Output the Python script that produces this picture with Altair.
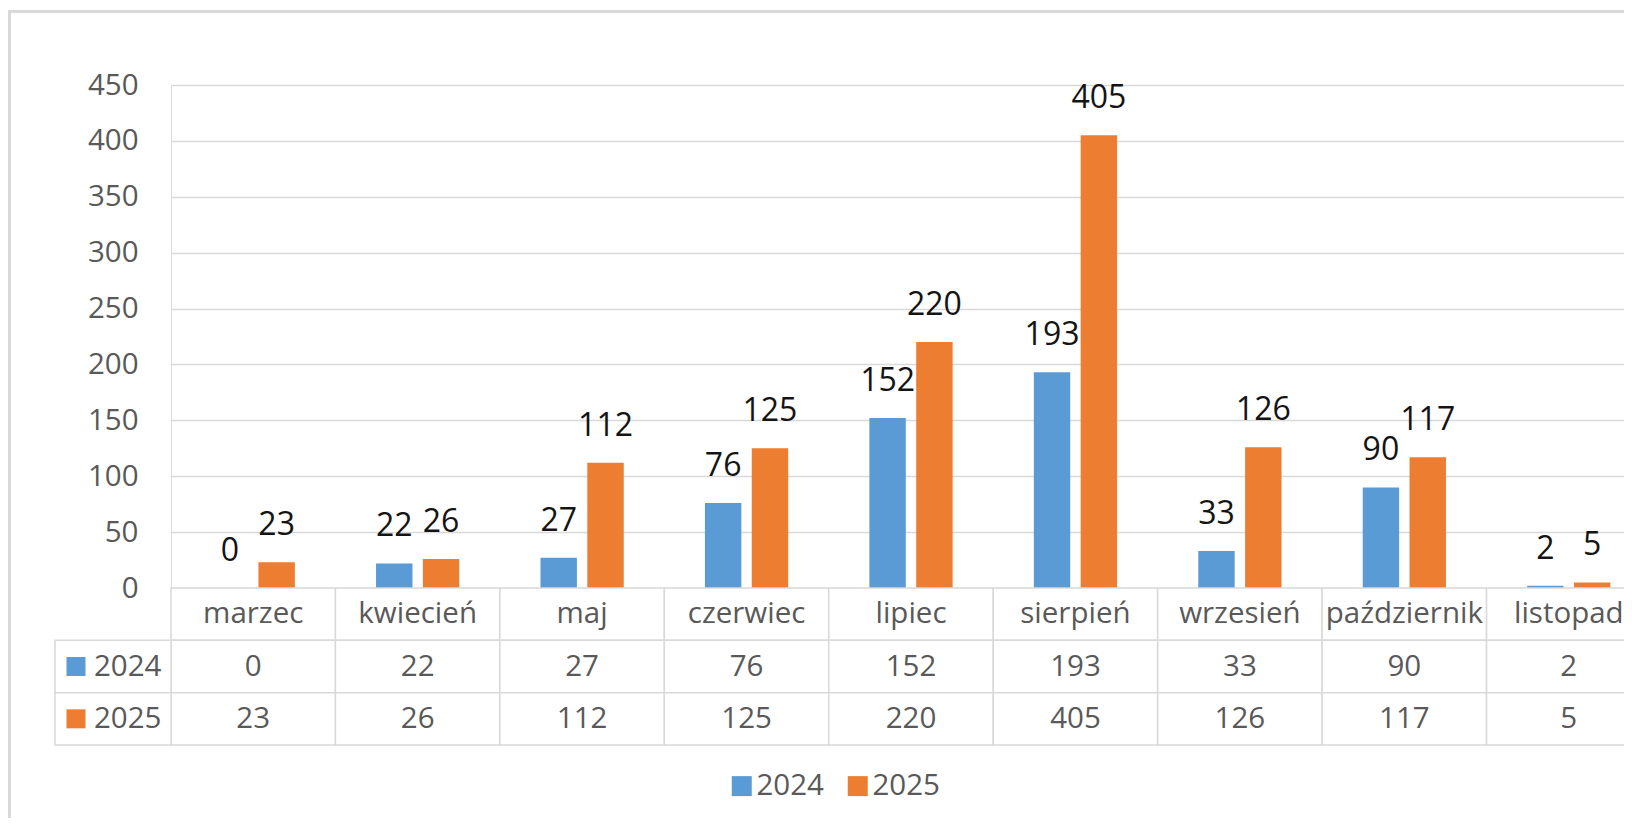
import altair as alt
import pandas as pd

months = ["marzec", "kwiecień", "maj", "czerwiec", "lipiec", "sierpień",
          "wrzesień", "październik", "listopad"]
years = ["2024", "2025"]
v2024 = [0, 22, 27, 76, 152, 193, 33, 90, 2]
v2025 = [23, 26, 112, 125, 220, 405, 126, 117, 5]
y_ticks = [0, 50, 100, 150, 200, 250, 300, 350, 400, 450]

colors = ["#5B9BD5", "#ED7D31"]
FONT = "Open Sans"
GREY = "#595959"
LINE = "#D9D9D9"

rows = []
for m, a, b in zip(months, v2024, v2025):
    rows.append({"month": m, "year": "2024", "value": a})
    rows.append({"month": m, "year": "2025", "value": b})
df = pd.DataFrame(rows)

table_rows = ["header", "2024", "2025"]
trows = []
for m, a, b in zip(months, v2024, v2025):
    trows.append({"month": m, "row": "header", "label": m})
    trows.append({"month": m, "row": "2024", "label": str(a)})
    trows.append({"month": m, "row": "2025", "label": str(b)})
tdf = pd.DataFrame(trows)
ldf = pd.DataFrame({"row": years, "year": years, "label": years})

PLOT_H = 503
xscale = alt.Scale(domain=months, range=[0, 1480], paddingInner=0, paddingOuter=0)
xoff = alt.Scale(domain=years, paddingInner=0.222, paddingOuter=0.867)
yscale = alt.Scale(domain=[0, 450], nice=False)
tscale = alt.Scale(domain=table_rows, range=[PLOT_H, 660], paddingInner=0, paddingOuter=0)
cscale = alt.Scale(domain=years, range=colors)

frame = alt.Chart(pd.DataFrame({"a": [0]})).mark_rect(
    fill=None, stroke=LINE, strokeWidth=3
).encode(
    x=alt.value(-161.5), x2=alt.value(1700), y=alt.value(-73.5), y2=alt.value(900)
)

bars = alt.Chart(df).mark_bar().encode(
    x=alt.X("month:N", scale=xscale, sort=months, axis=None),
    xOffset=alt.XOffset("year:N", scale=xoff),
    y=alt.Y("value:Q", scale=yscale,
            axis=alt.Axis(values=y_ticks, title=None, domain=False, ticks=False,
                          tickSize=0, labelPadding=33, labelFont=FONT,
                          labelFontSize=29.5, labelColor=GREY, gridColor=LINE,
                          gridWidth=1.5)),
    color=alt.Color("year:N", scale=cscale,
                    legend=alt.Legend(orient="none", legendX=556, legendY=686,
                                      direction="horizontal", title=None,
                                      symbolType="square", symbolSize=400,
                                      symbolStrokeWidth=0, labelFont=FONT,
                                      labelFontSize=29.5, labelColor=GREY,
                                      labelOffset=0, columnPadding=19)),
)

labels = alt.Chart(df).mark_text(
    font=FONT, fontSize=32, color="#141414", baseline="alphabetic", dy=-27
).encode(
    x=alt.X("month:N", scale=xscale, sort=months, axis=None),
    xOffset=alt.XOffset("year:N", scale=xoff),
    y=alt.Y("value:Q", scale=yscale, axis=None),
    text=alt.Text("value:Q"),
)

cells = alt.Chart(tdf).mark_rect(fill="white", stroke=LINE, strokeWidth=1.5).encode(
    x=alt.X("month:N", scale=xscale, sort=months, axis=None),
    y=alt.Y("row:N", scale=tscale, sort=table_rows, axis=None),
)

cell_text = alt.Chart(tdf).mark_text(
    font=FONT, fontSize=29.5, color=GREY, baseline="middle"
).encode(
    x=alt.X("month:N", scale=xscale, sort=months, axis=None),
    y=alt.Y("row:N", scale=tscale, sort=table_rows, axis=None),
    text="label:N",
)

left_cells = alt.Chart(ldf).mark_rect(fill="white", stroke=LINE, strokeWidth=1.5).encode(
    x=alt.value(-116), x2=alt.value(0),
    y=alt.Y("row:N", scale=tscale, sort=table_rows, axis=None),
)

left_keys = alt.Chart(ldf).mark_square(size=361, opacity=1, strokeWidth=0).encode(
    x=alt.value(-95),
    y=alt.Y("row:N", scale=tscale, sort=table_rows, axis=None),
    color=alt.Color("year:N", scale=cscale, legend=None),
)

left_text = alt.Chart(ldf).mark_text(
    font=FONT, fontSize=29.5, color=GREY, align="left", baseline="middle"
).encode(
    x=alt.value(-77),
    y=alt.Y("row:N", scale=tscale, sort=table_rows, axis=None),
    text="label:N",
)

chart = alt.layer(
    frame, bars, labels, cells, cell_text, left_cells, left_keys, left_text
).resolve_scale(y="independent").properties(
    width=1453, height=PLOT_H,
    autosize=alt.AutoSizeParams(type="none"),
    padding={"left": 163, "top": 77, "right": 0, "bottom": 230},
).configure_view(stroke=None).configure(background="white")

chart.save("out.html", embed_options={"renderer": "svg", "actions": False})
